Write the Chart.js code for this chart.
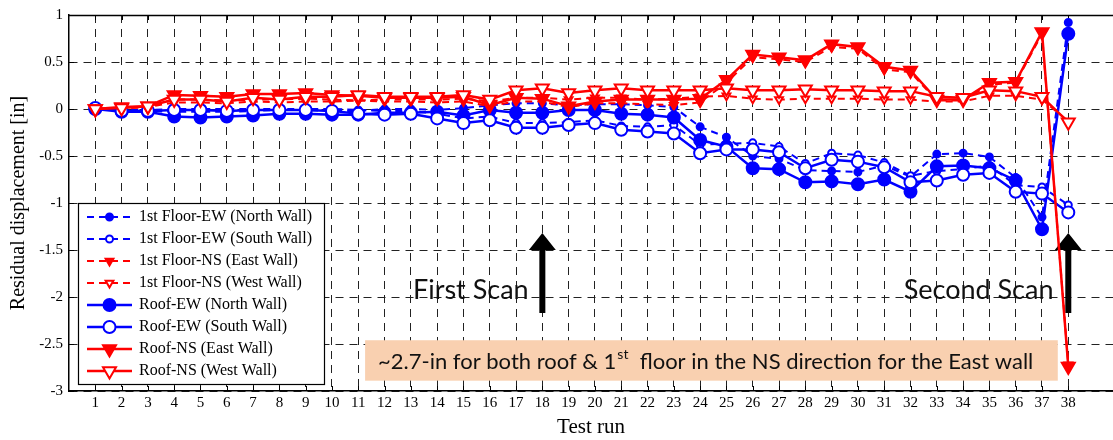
<!DOCTYPE html>
<html><head><meta charset="utf-8">
<script src="https://cdn.jsdelivr.net/npm/chart.js@4.4.1/dist/chart.umd.min.js"></script>
<style>html,body{margin:0;padding:0;background:#fff;overflow:hidden}#wrap{width:1113px;height:440px;position:relative}</style>
</head><body><div id="wrap"><canvas id="c" width="1113" height="440"></canvas></div>
<script>
// ---------- data ----------
const testRuns = [1,2,3,4,5,6,7,8,9,10,11,12,13,14,15,16,17,18,19,20,21,22,23,24,25,26,27,28,29,30,31,32,33,34,35,36,37,38];
const xTickLabels = ['1','2','3','4','5','6','7','8','9','10','11','12','13','14','15','16','17','18','19','20','21','22','23','24','25','26','27','28','29','30','31','32','33','34','35','36','37','38'];
const yTickValues = [1, 0.5, 0, -0.5, -1, -1.5, -2, -2.5, -3];
const yTickLabels = ['1', '0.5', '0', '-0.5', '-1', '-1.5', '-2', '-2.5', '-3'];

const seriesLabels = [
  '1st Floor-EW (North Wall)', '1st Floor-EW (South Wall)',
  '1st Floor-NS (East Wall)', '1st Floor-NS (West Wall)',
  'Roof-EW (North Wall)', 'Roof-EW (South Wall)',
  'Roof-NS (East Wall)', 'Roof-NS (West Wall)'
];
const floor1EWNorth = [0,-0.02,-0.02,-0.03,-0.03,-0.03,-0.02,-0.01,-0.01,-0.02,-0.02,0.0,0.0,-0.01,0.01,0.04,0.06,0.06,0.04,0.05,0.05,0.04,0.02,-0.19,-0.3,-0.5,-0.53,-0.65,-0.66,-0.67,-0.6,-0.72,-0.48,-0.47,-0.51,-0.73,-1.15,0.92];
const floor1EWSouth = [0,-0.01,-0.01,0.0,0.0,0.0,0.0,0.0,0.0,0.0,-0.01,-0.02,-0.02,-0.05,-0.1,-0.08,-0.15,-0.15,-0.14,-0.12,-0.18,-0.19,-0.17,-0.38,-0.37,-0.36,-0.4,-0.58,-0.47,-0.49,-0.57,-0.71,-0.66,-0.64,-0.6,-0.81,-0.83,-1.02];
const floor1NSEast = [0,0.01,0.02,0.1,0.1,0.09,0.1,0.1,0.11,0.1,0.09,0.08,0.08,0.07,0.08,0.03,0.08,0.08,0.02,0.06,0.06,0.05,0.04,0.07,0.28,0.55,0.53,0.5,0.66,0.64,0.42,0.39,0.09,0.09,0.26,0.28,0.8,-2.72];
const floor1NSWest = [0,0.01,0.02,0.07,0.07,0.06,0.08,0.07,0.08,0.08,0.09,0.1,0.1,0.1,0.11,0.08,0.12,0.12,0.1,0.12,0.12,0.1,0.11,0.13,0.14,0.11,0.1,0.11,0.11,0.11,0.1,0.1,0.08,0.08,0.14,0.14,0.1,-0.13];
const roofEWNorth = [0,-0.03,-0.03,-0.08,-0.09,-0.08,-0.07,-0.05,-0.05,-0.06,-0.06,-0.04,-0.04,-0.03,-0.07,-0.01,-0.04,-0.04,-0.01,-0.01,-0.05,-0.06,-0.09,-0.33,-0.4,-0.63,-0.64,-0.78,-0.77,-0.8,-0.75,-0.88,-0.61,-0.6,-0.63,-0.76,-1.28,0.8];
const roofEWSouth = [0.01,-0.02,-0.02,-0.01,-0.01,-0.02,-0.01,-0.01,-0.01,-0.02,-0.05,-0.06,-0.05,-0.1,-0.15,-0.12,-0.2,-0.2,-0.17,-0.15,-0.22,-0.24,-0.26,-0.47,-0.43,-0.43,-0.46,-0.63,-0.54,-0.56,-0.62,-0.78,-0.76,-0.7,-0.68,-0.88,-0.9,-1.1];
const roofNSEast = [0,0.02,0.03,0.15,0.14,0.13,0.16,0.16,0.17,0.15,0.14,0.12,0.12,0.12,0.13,0.04,0.12,0.11,0.03,0.08,0.1,0.1,0.1,0.11,0.31,0.58,0.55,0.52,0.69,0.66,0.45,0.41,0.1,0.1,0.28,0.29,0.82,-2.74];
const roofNSWest = [0,0.01,0.03,0.1,0.1,0.08,0.12,0.1,0.13,0.13,0.15,0.13,0.13,0.13,0.15,0.1,0.2,0.22,0.17,0.2,0.22,0.2,0.2,0.2,0.22,0.2,0.2,0.21,0.2,0.2,0.19,0.19,0.13,0.12,0.2,0.19,0.13,-0.14];

const annotationTexts = ['First Scan', 'Second Scan'];
const noteParts = ['~2.7-in for both roof & 1', 'st', '  floor in the NS direction for the East wall'];

// ---------- styles / layout ----------
const BLUE = '#0000ff', RED = '#ff0000';
const serif = '"Liberation Serif", "Times New Roman", serif';
const sans = 'Lato, "Open Sans", sans-serif';
const annot = {
  texts: [{x: 13.08, y: -1.93}, {x: 31.74, y: -1.93}],
  arrows: [{x: 18, tail: -2.17, tip: -1.32}, {x: 38, tail: -2.17, tip: -1.32}],
  box: {x0: 11.26, x1: 37.6, y0: -2.46, y1: -2.89, textX: 11.75, textY: -2.69}
};

function mk(label, data, color, dashed, style, filled) {
  const big = !dashed;
  const tri = style === 'triangle';
  return {
    label, data: testRuns.map((r, i) => ({x: r, y: data[i]})),
    borderColor: color, borderWidth: big ? 2.5 : 2, borderDash: dashed ? [7, 5] : [],
    pointStyle: style, pointRotation: tri ? 180 : 0,
    pointRadius: tri ? (big ? 7.5 : 4.5) : (big ? 6 : 3.5),
    pointBorderWidth: 2, pointBorderColor: color,
    pointBackgroundColor: filled ? color : '#ffffff',
    fill: false, tension: 0
  };
}
const datasets = [
  mk(seriesLabels[0], floor1EWNorth, BLUE, true, 'circle', true),
  mk(seriesLabels[1], floor1EWSouth, BLUE, true, 'circle', false),
  mk(seriesLabels[2], floor1NSEast, RED, true, 'triangle', true),
  mk(seriesLabels[3], floor1NSWest, RED, true, 'triangle', false),
  mk(seriesLabels[4], roofEWNorth, BLUE, false, 'circle', true),
  mk(seriesLabels[5], roofEWSouth, BLUE, false, 'circle', false),
  mk(seriesLabels[6], roofNSEast, RED, false, 'triangle', true),
  mk(seriesLabels[7], roofNSWest, RED, false, 'triangle', false)
];
datasets.forEach((d, i) => { d.order = datasets.length - i; });

const decor = {
  id: 'decor',
  beforeDatasetsDraw(chart) {
    const {ctx, scales: {x, y}, chartArea: ca} = chart;
    ctx.save();
    // inward ticks + top border
    ctx.strokeStyle = '#000'; ctx.lineWidth = 1; ctx.setLineDash([]);
    ctx.beginPath();
    testRuns.forEach(r => {
      const px = Math.round(x.getPixelForValue(r)) + 0.5;
      ctx.moveTo(px, ca.bottom); ctx.lineTo(px, ca.bottom - 5);
      ctx.moveTo(px, ca.top); ctx.lineTo(px, ca.top + 5);
    });
    yTickValues.forEach(v => {
      const py = Math.round(y.getPixelForValue(v)) + 0.5;
      ctx.moveTo(ca.left, py); ctx.lineTo(ca.left + 5, py);
    });
    ctx.stroke();
    ctx.beginPath(); ctx.lineWidth = 1.5;
    ctx.moveTo(ca.left, ca.top + 0.5); ctx.lineTo(ca.right, ca.top + 0.5); ctx.stroke();
    // note box
    const b = annot.box;
    const bx0 = x.getPixelForValue(b.x0), bx1 = x.getPixelForValue(b.x1);
    const by0 = y.getPixelForValue(b.y0), by1 = y.getPixelForValue(b.y1);
    ctx.fillStyle = '#f9d0b0';
    ctx.fillRect(bx0, by0, bx1 - bx0, by1 - by0);
    ctx.fillStyle = '#111';
    ctx.textBaseline = 'middle'; ctx.textAlign = 'left';
    let tx = x.getPixelForValue(b.textX); const ty = y.getPixelForValue(b.textY);
    ctx.font = '22px ' + sans;
    ctx.fillText(noteParts[0], tx, ty); tx += ctx.measureText(noteParts[0]).width;
    ctx.font = '14px ' + sans;
    ctx.fillText(noteParts[1], tx + 1, ty - 7); tx += ctx.measureText(noteParts[1]).width + 1;
    ctx.font = '22px ' + sans;
    ctx.fillText(noteParts[2], tx, ty);
    // scan labels
    ctx.font = '27px ' + sans;
    annot.texts.forEach((t, i) => {
      ctx.fillText(annotationTexts[i], x.getPixelForValue(t.x), y.getPixelForValue(t.y));
    });
    // arrows
    ctx.fillStyle = '#000';
    annot.arrows.forEach(a => {
      const px = x.getPixelForValue(a.x), p0 = y.getPixelForValue(a.tail), p1 = y.getPixelForValue(a.tip);
      const hl = 17, hw = 13.5, sw = 3;
      ctx.beginPath();
      ctx.moveTo(px - sw, p0); ctx.lineTo(px - sw, p1 + hl); ctx.lineTo(px - hw, p1 + hl);
      ctx.lineTo(px, p1); ctx.lineTo(px + hw, p1 + hl); ctx.lineTo(px + sw, p1 + hl);
      ctx.lineTo(px + sw, p0); ctx.closePath(); ctx.fill();
    });
    ctx.restore();
  },
  afterDatasetsDraw(chart) {
    const {ctx} = chart;
    ctx.save();
    // legend box
    const L = {x: 78.5, y: 203.5, w: 246, h: 181, y0: 217, dy: 22, l0: 87, l1: 132, tx: 139};
    ctx.fillStyle = '#fff'; ctx.fillRect(L.x, L.y, L.w, L.h);
    ctx.strokeStyle = '#000'; ctx.lineWidth = 1.2; ctx.setLineDash([]);
    ctx.strokeRect(L.x, L.y, L.w, L.h);
    chart.data.datasets.forEach((d, i) => {
      const yy = L.y0 + i * L.dy;
      ctx.strokeStyle = d.borderColor; ctx.lineWidth = d.borderWidth;
      ctx.setLineDash(d.borderDash);
      ctx.beginPath(); ctx.moveTo(L.l0, yy); ctx.lineTo(L.l1, yy); ctx.stroke();
      ctx.setLineDash([]);
      ctx.fillStyle = d.pointBackgroundColor; ctx.strokeStyle = d.pointBorderColor; ctx.lineWidth = d.pointBorderWidth;
      Chart.helpers.drawPoint(ctx, {pointStyle: d.pointStyle, rotation: d.pointRotation, radius: d.pointRadius, borderWidth: d.pointBorderWidth}, (L.l0 + L.l1) / 2, yy);
      ctx.fillStyle = '#000'; ctx.font = '16px ' + serif; ctx.textBaseline = 'middle'; ctx.textAlign = 'left';
      ctx.fillText(d.label, L.tx, yy);
    });
    ctx.restore();
  }
};

new Chart(document.getElementById('c'), {
  type: 'line',
  data: {datasets},
  options: {
    responsive: false, animation: false, devicePixelRatio: 1,
    layout: {autoPadding: false, padding: {top: 15, left: 0, right: 0, bottom: 0}},
    plugins: {legend: {display: false}, tooltip: {enabled: false}},
    elements: {line: {tension: 0}},
    scales: {
      x: {
        type: 'linear', min: 0, max: 39.7,
        afterBuildTicks: s => { s.ticks = testRuns.map(v => ({value: v})); },
        afterFit: s => { s.height = 49; s.paddingLeft = 0; s.paddingRight = 0; },
        ticks: {autoSkip: false, maxRotation: 0, padding: 3, color: '#000',
          font: {family: serif, size: 15},
          callback: (v) => xTickLabels[testRuns.indexOf(v)] ?? ''},
        grid: {color: '#222', lineWidth: 1, drawTicks: false},
        border: {display: true, color: '#000', width: 1.5, dash: [8, 6]},
        title: {display: true, text: 'Test run', color: '#000', font: {family: serif, size: 21}, padding: {top: 0, bottom: 0}}
      },
      y: {
        type: 'linear', min: -3, max: 1,
        afterBuildTicks: s => { s.ticks = yTickValues.map(v => ({value: v})); },
        afterFit: s => { s.width = 69; s.paddingTop = 0; s.paddingBottom = 0; },
        ticks: {padding: 6, color: '#000', font: {family: serif, size: 15},
          callback: (v) => yTickLabels[yTickValues.indexOf(v)] ?? ''},
        grid: {color: '#222', lineWidth: 1, drawTicks: false},
        border: {display: true, color: '#000', width: 1.5, dash: [8, 6]},
        title: {display: true, text: 'Residual displacement [in]', color: '#000', font: {family: serif, size: 20}, padding: {top: 7, bottom: 0}}
      }
    }
  },
  plugins: [decor]
});
</script></body></html>
